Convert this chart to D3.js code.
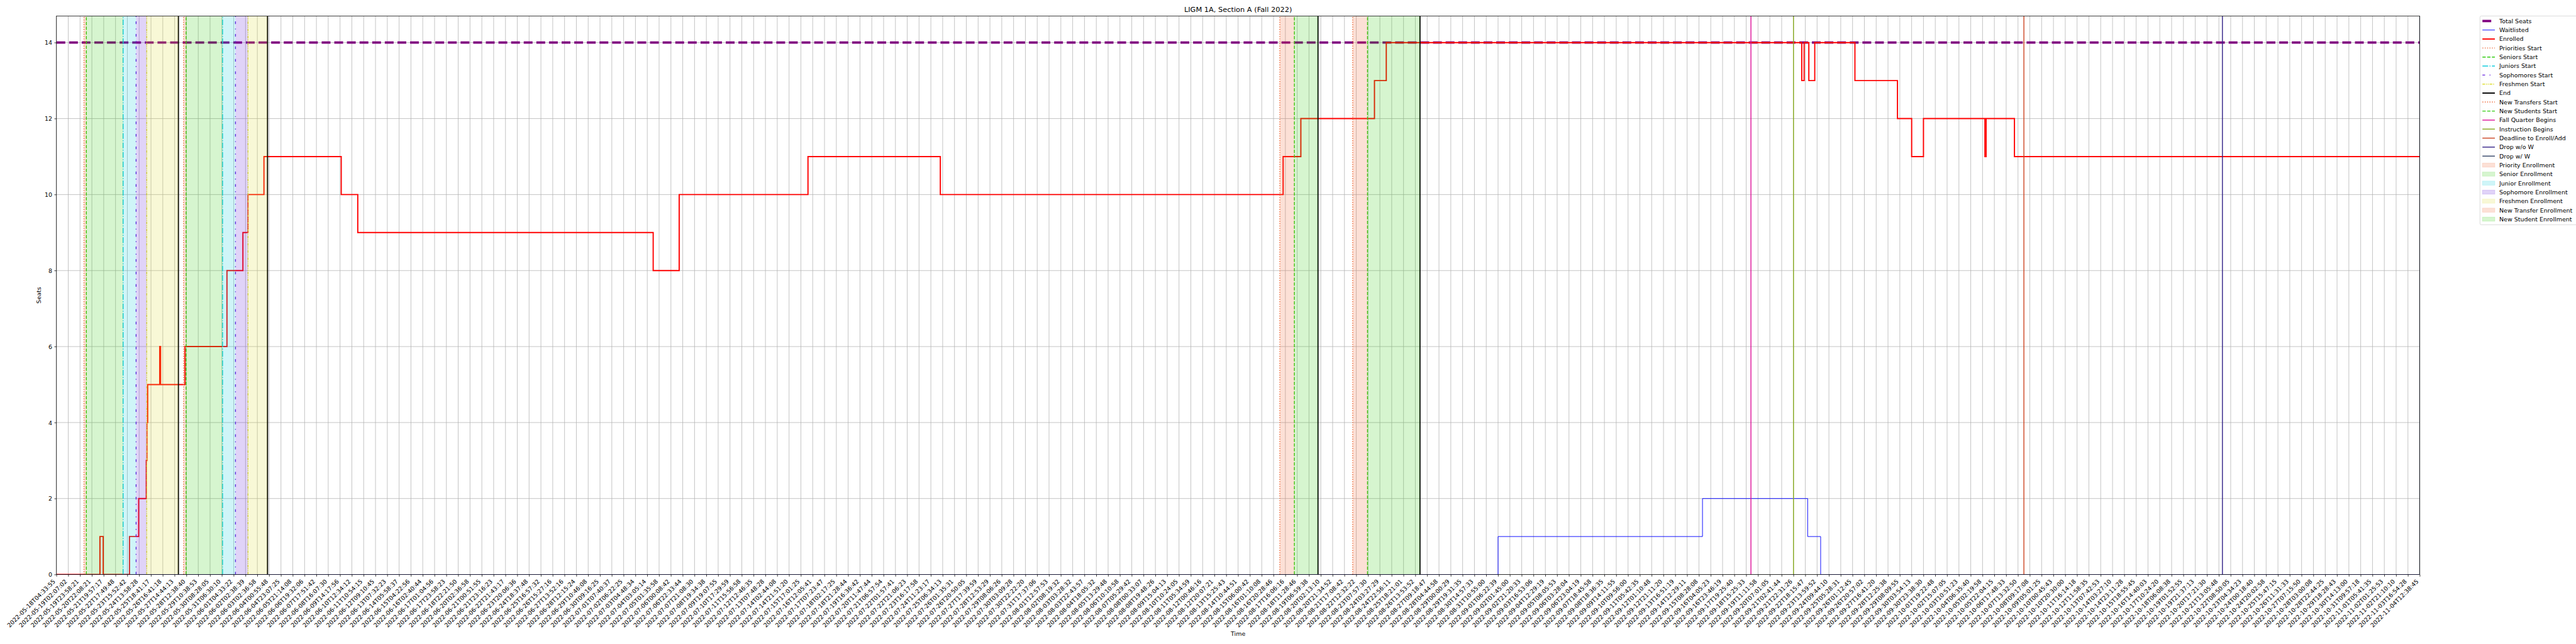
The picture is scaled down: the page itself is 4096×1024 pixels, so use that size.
<!DOCTYPE html>
<html>
<head>
<meta charset="utf-8">
<script src="https://cdn.jsdelivr.net/npm/d3@7"></script>
<style>
  html, body { margin: 0; padding: 0; background: #ffffff; }
  svg { display: block; }
  text { font-family: "DejaVu Sans", sans-serif; fill: #000; }
</style>
</head>
<body>
<svg id="chart" width="4096" height="1024"></svg>
<script>
// ---------------- DATA ----------------
const chartTitle = "LIGM 1A, Section A (Fall 2022)";
const xAxisTitle = "Time";
const yAxisTitle = "Seats";

const xTickLabels = [
"2022-05-18T04:33:55","2022-05-19T02:07:02","2022-05-19T23:58:21","2022-05-20T22:08:21","2022-05-21T19:57:17",
"2022-05-22T17:49:48","2022-05-23T15:52:42","2022-05-24T13:58:28","2022-05-25T18:41:17","2022-05-26T16:41:18",
"2022-05-27T14:44:13","2022-05-28T12:38:40","2022-05-29T10:38:53","2022-05-30T08:28:05","2022-05-31T06:30:10",
"2022-06-01T04:33:22","2022-06-02T02:38:39","2022-06-03T02:36:58","2022-06-04T00:55:48","2022-06-04T23:07:25",
"2022-06-05T21:14:08","2022-06-06T19:32:06","2022-06-07T17:51:42","2022-06-08T16:07:30","2022-06-09T14:17:56",
"2022-06-10T12:34:12","2022-06-11T10:54:15","2022-06-12T09:10:45","2022-06-13T07:32:23","2022-06-14T05:58:37",
"2022-06-15T04:22:56","2022-06-16T02:40:44","2022-06-17T01:04:56","2022-06-17T23:58:23","2022-06-18T22:21:50",
"2022-06-20T02:36:58","2022-06-21T00:51:55","2022-06-21T23:16:23","2022-06-22T21:43:17","2022-06-23T20:06:36",
"2022-06-24T18:37:48","2022-06-25T16:57:32","2022-06-26T15:27:16","2022-06-27T13:52:16","2022-06-28T12:15:24",
"2022-06-29T10:46:08","2022-06-30T09:16:25","2022-07-01T07:40:37","2022-07-02T06:22:25","2022-07-03T04:48:34",
"2022-07-04T03:05:14","2022-07-05T01:35:58","2022-07-06T00:08:42","2022-07-06T22:33:44","2022-07-07T21:08:30",
"2022-07-08T19:34:38","2022-07-09T19:07:55","2022-07-10T17:29:59","2022-07-11T15:56:58","2022-07-12T12:46:35",
"2022-07-13T07:48:28","2022-07-14T02:44:08","2022-07-14T21:51:20","2022-07-15T17:01:25","2022-07-16T12:05:41",
"2022-07-17T07:23:47","2022-07-18T02:17:25","2022-07-18T21:28:44","2022-07-19T16:36:42","2022-07-20T11:47:44",
"2022-07-21T06:57:54","2022-07-22T01:57:41","2022-07-22T21:06:23","2022-07-23T16:17:58","2022-07-24T11:23:17",
"2022-07-25T06:34:13","2022-07-26T01:35:31","2022-07-26T20:50:05","2022-07-27T17:39:59","2022-07-28T12:53:29",
"2022-07-29T08:06:26","2022-07-30T03:09:28","2022-07-30T22:22:20","2022-07-31T17:37:06","2022-08-01T12:57:53",
"2022-08-02T08:19:32","2022-08-03T03:28:32","2022-08-03T22:43:57","2022-08-04T18:05:32","2022-08-05T13:29:48",
"2022-08-06T10:10:58","2022-08-07T05:29:42","2022-08-08T00:33:07","2022-08-08T19:48:26","2022-08-09T15:04:13",
"2022-08-10T10:24:05","2022-08-11T05:34:59","2022-08-12T00:46:16","2022-08-12T20:07:21","2022-08-13T15:25:43",
"2022-08-14T10:44:51","2022-08-15T06:00:42","2022-08-16T01:10:08","2022-08-16T20:28:46","2022-08-17T16:06:16",
"2022-08-18T11:28:46","2022-08-19T06:59:38","2022-08-20T02:13:10","2022-08-20T21:34:52","2022-08-21T17:08:42",
"2022-08-22T12:32:22","2022-08-23T07:57:30","2022-08-24T03:27:29","2022-08-24T22:56:11","2022-08-25T18:21:01",
"2022-08-26T13:53:52","2022-08-27T09:18:47","2022-08-28T04:44:58","2022-08-29T00:00:29","2022-08-29T19:31:35",
"2022-08-30T14:57:33","2022-08-31T10:55:00","2022-09-01T06:22:39","2022-09-02T01:45:00","2022-09-02T21:20:33",
"2022-09-03T16:53:06","2022-09-04T12:29:19","2022-09-05T08:05:53","2022-09-06T03:28:04","2022-09-06T23:04:19",
"2022-09-07T18:45:58","2022-09-08T18:36:35","2022-09-09T14:11:55","2022-09-10T09:56:00","2022-09-11T05:42:35",
"2022-09-12T01:10:48","2022-09-12T21:11:20","2022-09-13T16:51:19","2022-09-14T12:29:11","2022-09-15T08:28:08",
"2022-09-16T04:05:23","2022-09-16T23:46:19","2022-09-17T19:25:40","2022-09-18T15:25:33","2022-09-19T11:11:58",
"2022-09-20T07:01:05","2022-09-21T02:41:44","2022-09-21T22:31:26","2022-09-22T18:15:47","2022-09-23T13:59:52",
"2022-09-24T09:44:10","2022-09-25T05:28:31","2022-09-26T01:12:45","2022-09-26T20:57:02","2022-09-27T16:41:20",
"2022-09-28T12:25:38","2022-09-29T08:09:55","2022-09-30T03:54:13","2022-09-30T23:38:30","2022-10-01T19:22:48",
"2022-10-02T15:07:05","2022-10-03T10:51:23","2022-10-04T06:35:40","2022-10-05T02:19:58","2022-10-05T22:04:15",
"2022-10-06T17:48:33","2022-10-07T13:32:50","2022-10-08T09:17:08","2022-10-09T05:01:25","2022-10-10T00:45:43",
"2022-10-10T20:30:00","2022-10-11T16:14:18","2022-10-12T11:58:35","2022-10-13T07:42:53","2022-10-14T03:27:10",
"2022-10-14T23:11:28","2022-10-15T18:55:45","2022-10-16T14:40:03","2022-10-17T10:24:20","2022-10-18T06:08:38",
"2022-10-19T01:52:55","2022-10-19T21:37:13","2022-10-20T17:21:30","2022-10-21T13:05:48","2022-10-22T08:50:05",
"2022-10-23T04:34:23","2022-10-24T00:18:40","2022-10-24T20:02:58","2022-10-25T15:47:15","2022-10-26T11:31:33",
"2022-10-27T07:15:50","2022-10-28T03:00:08","2022-10-28T22:44:25","2022-10-29T18:28:43","2022-10-30T14:13:00",
"2022-10-31T09:57:18","2022-11-01T05:41:35","2022-11-02T01:25:53","2022-11-02T21:10:10","2022-11-03T16:54:28",
"2022-11-04T12:38:45"
];
const yTicks = [0, 2, 4, 6, 8, 10, 12, 14];

const totalSeats = 14;

const enrolledSteps = [
  [0,0],[3.68,1],[3.96,0],[6.18,1],[6.96,2],[7.60,3],[7.66,4],[7.72,5],[8.74,6],[8.81,5],
  [10.88,6],[14.43,8],[15.78,9],[16.21,10],[17.56,11],[24.1,10],[25.5,9],[50.5,8],[52.7,10],
  [63.6,11],[74.8,10],[103.81,11],[105.31,12],[111.54,13],[112.54,14],[147.7,13],[147.9,14],
  [148.3,13],[148.8,14],[152.2,13],[155.8,12],[157.0,11],[158.0,12],[163.2,11],[163.3,12],
  [165.7,11],[200,11]
];
const waitlistedSteps = [[0,0],[122.0,1],[139.3,2],[148.2,1],[149.3,0],[200,0]];

const prioritiesStart   = [2.33, 10.76];
const seniorsStart      = [2.53, 10.97];
const juniorsStart      = [5.64, 14.06];
const sophomoresStart   = [6.74, 15.15];
const freshmenStart     = [7.64, 16.21];
const endMarks          = [10.32, 17.86, 106.76, 115.39];
const newTransfersStart = [103.53, 109.70];
const newStudentsStart  = [104.76, 110.95];
const fallQuarterBegins = [143.4];
const instructionBegins = [147.0];
const deadlineEnrollAdd = [166.5];
const dropWithoutW      = [183.3];
const dropWithW         = [200.0];

const priorityEnrollment    = [[2.33, 2.53], [10.76, 10.97]];
const seniorEnrollment      = [[2.53, 5.64], [10.97, 14.06]];
const juniorEnrollment      = [[5.64, 6.74], [14.06, 15.15]];
const sophomoreEnrollment   = [[6.74, 7.64], [15.15, 16.21]];
const freshmenEnrollment    = [[7.64, 10.32], [16.21, 17.86]];
const newTransferEnrollment = [[103.53, 104.76], [109.70, 110.95]];
const newStudentEnrollment  = [[104.76, 106.76], [110.95, 115.39]];

// ---------------- DRAWING ----------------
(function () {
const S = 0.682;
const PT = 100 / 72;
const FS = 10 * PT;
const xTickCount = xTickLabels.length;

const svg = d3.select("#chart");
const root = svg.append("g").attr("transform", `scale(${S})`);

const pL = 131.6, pR = 5641.6, pT = 37.3, pB = 1339.5;

const x = d3.scaleLinear().domain([0, xTickCount - 1]).range([pL, pR]);
const y = d3.scaleLinear().domain([0, 14.7]).range([pB, pT]);

root.append("defs").append("clipPath").attr("id", "plotclip")
  .append("rect").attr("x", pL).attr("y", pT).attr("width", pR - pL).attr("height", pB - pT);

const grid = root.append("g");
grid.selectAll("line.vg").data(d3.range(xTickCount)).join("line")
  .attr("x1", d => x(d)).attr("x2", d => x(d)).attr("y1", pT).attr("y2", pB)
  .attr("stroke", "#b0b0b0").attr("stroke-width", 0.8 * PT);
grid.selectAll("line.hg").data(yTicks).join("line")
  .attr("x1", pL).attr("x2", pR).attr("y1", d => y(d)).attr("y2", d => y(d))
  .attr("stroke", "#b0b0b0").attr("stroke-width", 0.8 * PT);

const plot = root.append("g").attr("clip-path", "url(#plotclip)");

const styles = {
  total:      { color: "#800080", lw: 4,   dash: [3.7, 1.6] },
  wait:       { color: "#0000ff", lw: 1,   dash: null },
  enrolled:   { color: "#ff0000", lw: 2,   dash: null },
  priorities: { color: "#ee6633", lw: 1.5, dash: [1, 1.65] },
  seniors:    { color: "#33cc11", lw: 1.5, dash: [3.7, 1.6] },
  juniors:    { color: "#11ccdd", lw: 1.5, dash: [6.4, 1.6, 1, 1.6] },
  sophomores: { color: "#6622dd", lw: 1.5, dash: [3, 5, 1, 5] },
  freshmen:   { color: "#dddd33", lw: 1.5, dash: [3, 1, 1, 1, 1, 1] },
  end:        { color: "#000000", lw: 2,   dash: null },
  newTransfers:{ color: "#ee6633", lw: 1.5, dash: [1, 1.65] },
  newStudents:{ color: "#33cc11", lw: 1.5, dash: [3.7, 1.6] },
  fall:       { color: "#dd1199", lw: 1.5, dash: null },
  instr:      { color: "#88aa22", lw: 1.5, dash: null },
  deadline:   { color: "#cc4422", lw: 1.5, dash: null },
  dropWo:     { color: "#332288", lw: 1.5, dash: null },
  dropW:      { color: "#334466", lw: 1.5, dash: null }
};
const spanColors = {
  priority: "#ee6633", senior: "#33cc11", junior: "#11ccdd", sophomore: "#6622dd",
  freshmen: "#dddd33", newTransfer: "#ee6633", newStudent: "#33cc11"
};
const spanAlpha = 0.2;

function dashOf(st) { return st.dash ? st.dash.map(v => v * st.lw * PT).join(",") : null; }

plot.append("line")
  .attr("x1", pL).attr("x2", pR).attr("y1", y(totalSeats)).attr("y2", y(totalSeats))
  .attr("stroke", styles.total.color).attr("stroke-width", styles.total.lw * PT)
  .attr("stroke-dasharray", dashOf(styles.total));

const stepLine = d3.line().x(d => x(d[0])).y(d => y(d[1])).curve(d3.curveStepAfter);
plot.append("path").datum(waitlistedSteps).attr("d", stepLine)
  .attr("fill", "none").attr("stroke", styles.wait.color).attr("stroke-width", styles.wait.lw * PT);
plot.append("path").datum(enrolledSteps).attr("d", stepLine)
  .attr("fill", "none").attr("stroke", styles.enrolled.color).attr("stroke-width", styles.enrolled.lw * PT);

function vlines(arr, st) {
  plot.append("g").selectAll("line").data(arr).join("line")
    .attr("x1", d => x(d)).attr("x2", d => x(d)).attr("y1", pB).attr("y2", pT)
    .attr("stroke", st.color).attr("stroke-width", st.lw * PT)
    .attr("stroke-dasharray", dashOf(st));
}
vlines(prioritiesStart, styles.priorities);
vlines(seniorsStart, styles.seniors);
vlines(juniorsStart, styles.juniors);
vlines(sophomoresStart, styles.sophomores);
vlines(freshmenStart, styles.freshmen);
vlines(endMarks, styles.end);
vlines(newTransfersStart, styles.newTransfers);
vlines(newStudentsStart, styles.newStudents);
vlines(fallQuarterBegins, styles.fall);
vlines(instructionBegins, styles.instr);
vlines(deadlineEnrollAdd, styles.deadline);
vlines(dropWithoutW, styles.dropWo);
vlines(dropWithW, styles.dropW);

function spans(arr, color) {
  plot.append("g").selectAll("rect").data(arr).join("rect")
    .attr("x", d => x(d[0])).attr("width", d => x(d[1]) - x(d[0]))
    .attr("y", pT).attr("height", pB - pT)
    .attr("fill", color).attr("fill-opacity", spanAlpha);
}
spans(priorityEnrollment, spanColors.priority);
spans(seniorEnrollment, spanColors.senior);
spans(juniorEnrollment, spanColors.junior);
spans(sophomoreEnrollment, spanColors.sophomore);
spans(freshmenEnrollment, spanColors.freshmen);
spans(newTransferEnrollment, spanColors.newTransfer);
spans(newStudentEnrollment, spanColors.newStudent);

root.append("rect").attr("x", pL).attr("y", pT).attr("width", pR - pL).attr("height", pB - pT)
  .attr("fill", "none").attr("stroke", "#000").attr("stroke-width", 0.8 * PT);

const xAxis = d3.axisBottom(x).tickValues(d3.range(xTickCount))
  .tickFormat(i => xTickLabels[i]).tickSize(3.5 * PT).tickPadding(0);
const gx = root.append("g").attr("transform", `translate(0,${pB})`).call(xAxis);
gx.select(".domain").remove();
gx.selectAll(".tick line").attr("stroke", "#000").attr("stroke-width", 0.8 * PT);
gx.selectAll(".tick text")
  .attr("x", 0).attr("y", 0).attr("dy", null)
  .attr("text-anchor", "end")
  .attr("transform", "translate(-2.3,17) rotate(-45)")
  .style("font-size", FS + "px").style("font-family", "DejaVu Sans");

const yAxis = d3.axisLeft(y).tickValues(yTicks).tickSize(3.5 * PT).tickPadding(3.5 * PT);
const gy = root.append("g").attr("transform", `translate(${pL},0)`).call(yAxis);
gy.select(".domain").remove();
gy.selectAll(".tick line").attr("stroke", "#000").attr("stroke-width", 0.8 * PT);
gy.selectAll(".tick text").attr("dy", "0.35em").style("font-size", FS + "px").style("font-family", "DejaVu Sans");

root.append("text").attr("x", (pL + pR) / 2).attr("y", 28).attr("text-anchor", "middle")
  .style("font-size", (12 * PT) + "px").text(chartTitle);
root.append("text").attr("x", (pL + pR) / 2).attr("y", 1482).attr("text-anchor", "middle")
  .style("font-size", FS + "px").text(xAxisTitle);
root.append("text").attr("transform", `translate(95,${(pT + pB) / 2}) rotate(-90)`)
  .attr("text-anchor", "middle").style("font-size", FS + "px").text(yAxisTitle);

const legendItems = [
  { label: "Total Seats", kind: "line", st: styles.total },
  { label: "Waitlisted", kind: "line", st: styles.wait },
  { label: "Enrolled", kind: "line", st: styles.enrolled },
  { label: "Priorities Start", kind: "line", st: styles.priorities },
  { label: "Seniors Start", kind: "line", st: styles.seniors },
  { label: "Juniors Start", kind: "line", st: styles.juniors },
  { label: "Sophomores Start", kind: "line", st: styles.sophomores },
  { label: "Freshmen Start", kind: "line", st: styles.freshmen },
  { label: "End", kind: "line", st: styles.end },
  { label: "New Transfers Start", kind: "line", st: styles.newTransfers },
  { label: "New Students Start", kind: "line", st: styles.newStudents },
  { label: "Fall Quarter Begins", kind: "line", st: styles.fall },
  { label: "Instruction Begins", kind: "line", st: styles.instr },
  { label: "Deadline to Enroll/Add", kind: "line", st: styles.deadline },
  { label: "Drop w/o W", kind: "line", st: styles.dropWo },
  { label: "Drop w/ W", kind: "line", st: styles.dropW },
  { label: "Priority Enrollment", kind: "patch", color: spanColors.priority },
  { label: "Senior Enrollment", kind: "patch", color: spanColors.senior },
  { label: "Junior Enrollment", kind: "patch", color: spanColors.junior },
  { label: "Sophomore Enrollment", kind: "patch", color: spanColors.sophomore },
  { label: "Freshmen Enrollment", kind: "patch", color: spanColors.freshmen },
  { label: "New Transfer Enrollment", kind: "patch", color: spanColors.newTransfer },
  { label: "New Student Enrollment", kind: "patch", color: spanColors.newStudent }
];
const lg = root.append("g");
const lgLeft = 5782, lgTop = 37.3, rowH = 21.0, firstRow = 49.0;
lg.append("rect").attr("x", lgLeft).attr("y", lgTop).attr("width", 260)
  .attr("height", firstRow + rowH * (legendItems.length - 1) + 13 - lgTop)
  .attr("rx", 3).attr("fill", "#fff").attr("fill-opacity", 0.8)
  .attr("stroke", "#cccccc").attr("stroke-width", 1);
const hx0 = 5787.7, hx1 = 5816.7, tx = 5827;
legendItems.forEach((it, i) => {
  const cy = firstRow + rowH * i;
  if (it.kind === "line") {
    lg.append("line").attr("x1", hx0).attr("x2", hx1).attr("y1", cy).attr("y2", cy)
      .attr("stroke", it.st.color).attr("stroke-width", it.st.lw * PT)
      .attr("stroke-dasharray", dashOf(it.st));
  } else {
    lg.append("rect").attr("x", hx0).attr("y", cy - 4.9).attr("width", hx1 - hx0).attr("height", 9.7)
      .attr("fill", it.color).attr("fill-opacity", spanAlpha)
      .attr("stroke", it.color).attr("stroke-opacity", spanAlpha).attr("stroke-width", 1);
  }
  lg.append("text").attr("x", tx).attr("y", cy).attr("dy", "0.36em")
    .style("font-size", FS + "px").text(it.label);
});
})();
</script>
</body>
</html>
